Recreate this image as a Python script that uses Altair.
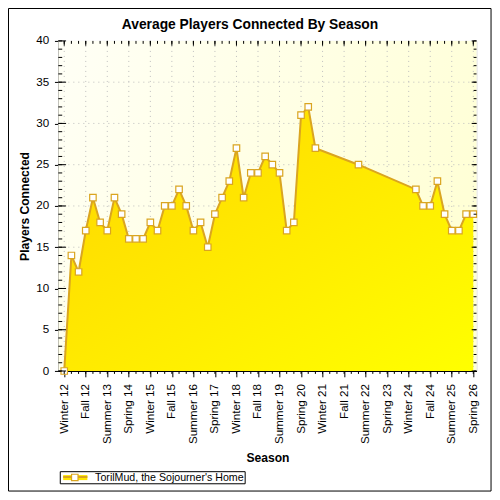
import json
import altair as alt
import pandas as pd

# ---------------- data ----------------
season_names = ["Winter", "Spring", "Summer", "Fall"]
years = list(range(12, 27))
seasons = [f"{n} {y}" for y in years for n in season_names][:58]  # Winter 12 .. Spring 26

point_seasons = seasons[0:36] + ["Spring 22"] + seasons[49:58]
players = [0, 14, 12, 17, 21, 18, 17, 21, 19, 16,
           16, 16, 18, 17, 20, 20, 22, 20, 17, 18,
           15, 19, 21, 23, 27, 21, 24, 24, 26, 25,
           24, 17, 18, 31, 32, 27,
           25,
           22, 20, 20, 23, 19, 17, 17, 19, 19]
series_name = "TorilMud, the Sojourner's Home"
chart_title = "Average Players Connected By Season"

x_label_ticks = list(range(0, 58, 3))
x_all_ticks = list(range(0, 58))
y_label_ticks = list(range(0, 41, 5))
y_all_ticks = list(range(0, 41))
y_grid = list(range(5, 40, 5))

df = pd.DataFrame({
    "season": point_seasons,
    "idx": [seasons.index(s) for s in point_seasons],
    "players": players,
})

# ---------------- layout ----------------
s = 484 / 500
W = 432 * s
H = 341 * s
GOLD = "#DAA520"
FONT = "Liberation Sans"

xscale = alt.Scale(domain=[-0.82, 57.45], nice=False, zero=False)
yscale = alt.Scale(domain=[0, 40], nice=False, zero=False)

x_axis = alt.Axis(
    values=x_label_ticks,
    labelExpr=json.dumps(seasons) + "[datum.value]",
    labelAngle=270, labelFont=FONT, labelFontSize=12 * s, labelColor="#000000",
    labelPadding=7 * s, labelOverlap=False, labelFlush=False,
    tickSize=6 * s, tickColor="#000000", domainColor="#000000",
    grid=False, title="Season", titleFont=FONT, titleFontSize=12.5 * s,
    titleFontWeight="bold", titleColor="#000000",
    titleY=94 * s, titleBaseline="alphabetic",
)
y_axis = alt.Axis(
    values=y_label_ticks, labelFont=FONT, labelFontSize=12 * s, labelColor="#000000",
    labelPadding=6 * s, labelFlush=False,
    tickSize=4 * s, tickColor="#000000", domainColor="#000000",
    grid=False, title="Players Connected", titleFont=FONT, titleFontSize=12.5 * s,
    titleFontWeight="bold", titleColor="#000000",
    titleX=-35 * s, titleBaseline="middle",
)


def X(field):
    return alt.X(f"{field}:Q", scale=xscale, axis=x_axis)


def Y(field):
    return alt.Y(f"{field}:Q", scale=yscale, axis=y_axis)


one = pd.DataFrame({"title": [chart_title]})

background = alt.Chart(one).mark_rect(
    fill=alt.LinearGradient(
        gradient="linear",
        stops=[alt.GradientStop(color="#FFFFF6", offset=0),
               alt.GradientStop(color="#FFFFD6", offset=1)],
        x1=0, x2=1, y1=0, y2=0.4),
).encode(x=alt.value(0), x2=alt.value(W), y=alt.value(0), y2=alt.value(H))

xgrid = alt.Chart(pd.DataFrame({"g": x_label_ticks})).mark_rule(
    color="#BEBEBE", strokeDash=[1, 4], strokeWidth=1
).encode(x=X("g"), y=alt.value(0), y2=alt.value(H))

ygrid = alt.Chart(pd.DataFrame({"g": y_grid})).mark_rule(
    color="#BEBEBE", strokeDash=[1, 4], strokeWidth=1
).encode(y=Y("g"), x=alt.value(0), x2=alt.value(W))

area = alt.Chart(df).mark_area(
    color=alt.LinearGradient(
        gradient="linear",
        stops=[alt.GradientStop(color="#FFD500", offset=0),
               alt.GradientStop(color="#FFFF00", offset=1)],
        x1=0, x2=1, y1=0, y2=1),
).encode(x=X("idx"), y=Y("players"))

line = alt.Chart(df).mark_line(color=GOLD, strokeWidth=2).encode(
    x=X("idx"), y=Y("players"))

points = alt.Chart(df).mark_point(
    shape="square", filled=True, fill="white", stroke=GOLD, strokeWidth=1.2,
    size=42, opacity=1,
).encode(x=X("idx"), y=Y("players"))

# minor / inner ticks
xt_all = pd.DataFrame({"t": x_all_ticks})
xt_maj = pd.DataFrame({"t": x_label_ticks})
yt_all = pd.DataFrame({"t": y_all_ticks})
yt_maj = pd.DataFrame({"t": y_label_ticks})


def xr(data, y0, y1):
    return alt.Chart(data).mark_rule(color="black", strokeWidth=1).encode(
        x=X("t"), y=alt.value(y0), y2=alt.value(y1))


def yr(data, x0, x1):
    return alt.Chart(data).mark_rule(color="black", strokeWidth=1).encode(
        y=Y("t"), x=alt.value(x0), x2=alt.value(x1))


ticks = [
    xr(xt_all, H, H + 3 * s),      # bottom minor (outward)
    xr(xt_all, 0, 3 * s),          # top minor
    xr(xt_maj, 0, 5 * s),          # top major
    yr(yt_all, 0, 4 * s),          # left minor (inward)
    yr(yt_maj, 0, 8 * s),          # left major (inward)
    yr(yt_all, W, W - 3 * s),      # right minor
    yr(yt_maj, W, W - 5 * s),      # right major
]

# title as text
title_txt = alt.Chart(one).mark_text(
    align="center", baseline="alphabetic", font=FONT, fontSize=13.8,
    fontWeight="bold", color="black"
).encode(x=alt.value((250 - 52) * s), y=alt.value((22 - 34) * s), text="title:N")

# legend (manual)
leg_df = pd.DataFrame({"name": [series_name]})
leg_box = alt.Chart(leg_df).mark_rect(fill="white", stroke="black", strokeWidth=1).encode(
    x=alt.value(2 * s), x2=alt.value(193 * s), y=alt.value(445 * s), y2=alt.value(457.5 * s))
leg_bar = alt.Chart(leg_df).mark_rect(fill="#FFE600").encode(
    x=alt.value(5 * s), x2=alt.value(30 * s), y=alt.value(448.5 * s), y2=alt.value(453.7 * s))
leg_line = alt.Chart(leg_df).mark_rule(color=GOLD, strokeWidth=2).encode(
    x=alt.value(5 * s), x2=alt.value(30 * s), y=alt.value(450.5 * s))
leg_pt = alt.Chart(leg_df).mark_point(
    shape="square", filled=True, fill="white", stroke=GOLD, strokeWidth=1.2, size=42, opacity=1
).encode(x=alt.value(17 * s), y=alt.value(451 * s))
leg_txt = alt.Chart(leg_df).mark_text(
    align="left", baseline="alphabetic", font=FONT, fontSize=11 * s, color="black"
).encode(x=alt.value(38 * s), y=alt.value(455 * s), text="name:N")

frame = alt.Chart(one).mark_rect(fill="transparent", stroke="black", strokeWidth=1).encode(
    x=alt.value(-52 * s + 0.5), x2=alt.value(499 * s - 52 * s),
    y=alt.value(-34 * s + 0.5), y2=alt.value(499 * s - 34 * s))

chart = alt.layer(
    background, xgrid, ygrid, area, line, points, *ticks,
    title_txt, leg_box, leg_bar, leg_line, leg_pt, leg_txt, frame,
).properties(
    width=W, height=H,
    autosize=alt.AutoSizeParams(type="none"),
    padding={"left": 52 * s, "top": 34 * s, "right": 16 * s, "bottom": 125 * s},
).configure_view(stroke="black", strokeWidth=1).configure(background="white")

chart.save("out.html", embed_options={"renderer": "svg", "actions": False})
